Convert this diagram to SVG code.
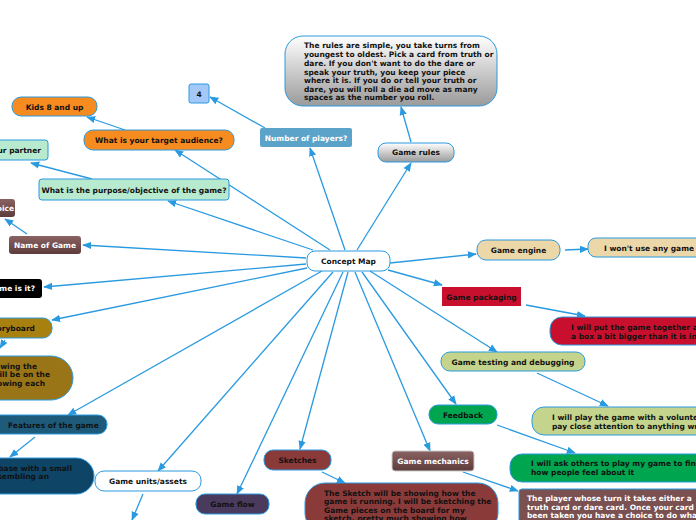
<svg xmlns="http://www.w3.org/2000/svg" width="696" height="520" viewBox="0 0 696 520">
<defs>
<marker id="a" viewBox="0 0 10 10" refX="9" refY="5" markerWidth="7" markerHeight="7" orient="auto"><path d="M0,1 L10,5 L0,9 z" fill="#2a9ae0"/></marker>
<linearGradient id="gray" x1="0" y1="0" x2="0" y2="1"><stop offset="0" stop-color="#ffffff"/><stop offset="1" stop-color="#9a9a9a"/></linearGradient>
<linearGradient id="brown" x1="0" y1="0" x2="0" y2="1"><stop offset="0" stop-color="#8a6262"/><stop offset="1" stop-color="#5e3c3c"/></linearGradient>
<style>
text{font-family:"DejaVu Sans",Verdana,sans-serif;font-size:7.5px;font-weight:bold;fill:#111}
.w{fill:#fff}
.c{text-anchor:middle}
.n{stroke:#2a9ae0;stroke-width:1}
#edges line{stroke:#2a9ae0;stroke-width:1.3;marker-end:url(#a)}
</style>
</defs>
<rect width="696" height="520" fill="#fff"/>
<g id="edges">
<line x1="357" y1="250" x2="411" y2="163"/>
<line x1="345" y1="250" x2="310" y2="148"/>
<line x1="313" y1="250" x2="168" y2="201"/>
<line x1="330" y1="250" x2="175" y2="150"/>
<line x1="306" y1="258" x2="83" y2="245"/>
<line x1="306" y1="264" x2="44" y2="287"/>
<line x1="307" y1="268" x2="52" y2="320"/>
<line x1="322" y1="271" x2="68" y2="415"/>
<line x1="333" y1="272" x2="158" y2="471"/>
<line x1="343" y1="272" x2="237" y2="494"/>
<line x1="348" y1="272" x2="300" y2="449"/>
<line x1="355" y1="272" x2="430" y2="451"/>
<line x1="362" y1="272" x2="456" y2="404"/>
<line x1="370" y1="271" x2="497" y2="352"/>
<line x1="388" y1="270" x2="442" y2="285"/>
<line x1="390" y1="263" x2="476" y2="254"/>
<line x1="411" y1="142" x2="401" y2="107"/>
<line x1="265" y1="128" x2="210" y2="97"/>
<line x1="125" y1="130" x2="87" y2="117"/>
<line x1="92" y1="179" x2="31" y2="163"/>
<line x1="27" y1="234" x2="5" y2="219"/>
<line x1="5" y1="340" x2="0" y2="348"/>
<line x1="35" y1="437" x2="10" y2="457"/>
<line x1="143" y1="494" x2="132" y2="520"/>
<line x1="322" y1="472" x2="345" y2="483"/>
<line x1="463" y1="472" x2="518" y2="491"/>
<line x1="497" y1="425" x2="575" y2="453"/>
<line x1="537" y1="373" x2="608" y2="406"/>
<line x1="526" y1="305" x2="585" y2="316"/>
<line x1="565" y1="250" x2="588" y2="249"/>
</g>
<g id="center"><rect class="n" x="307" y="251" width="83" height="20" rx="8" fill="#fff"/><text class="c" x="348.5" y="264">Concept Map</text></g>
<g id="rules"><rect class="n" x="285" y="36" width="212" height="70" rx="18" fill="url(#gray)"/>
<text x="304" y="48">The rules are simple, you take turns from</text>
<text x="304" y="57">youngest to oldest. Pick a card from truth or</text>
<text x="304" y="66">dare. If you don't want to do the dare or</text>
<text x="304" y="75">speak your truth, you keep your piece</text>
<text x="304" y="83">where it is. If you do or tell your truth or</text>
<text x="304" y="92">dare, you will roll a die ad move as many</text>
<text x="304" y="100">spaces as the number you roll.</text></g>
<g id="gamerules"><rect class="n" x="378" y="143" width="76" height="19" rx="8" fill="url(#gray)"/><text class="c" x="416" y="155">Game rules</text></g>
<g id="players"><rect x="260" y="128" width="92" height="19" rx="2" fill="#5ba3c8"/><text class="c w" x="306" y="140.5">Number of players?</text></g>
<g id="four"><rect class="n" x="189" y="84" width="20" height="19" rx="2" fill="#a4c8f8"/><text class="c" x="199" y="96.5">4</text></g>
<g id="kids"><rect class="n" x="12" y="97" width="85" height="19" rx="9" fill="#f68b1f"/><text class="c" x="54.5" y="109.5">Kids 8 and up</text></g>
<g id="target"><rect class="n" x="84" y="130" width="150" height="20" rx="9" fill="#f68b1f"/><text class="c" x="159" y="143">What is your target audience?</text></g>
<g id="partner"><rect class="n" x="-10" y="140" width="58" height="20" rx="3" fill="#b8ead0"/><text x="41" y="153" style="text-anchor:end">Find your partner</text></g>
<g id="purpose"><rect class="n" x="39" y="179" width="190" height="21" rx="3" fill="#b8ead0"/><text class="c" x="134" y="193">What is the purpose/objective of the game?</text></g>
<g id="ce"><rect x="-10" y="199" width="25" height="18" rx="3" fill="url(#brown)"/><text class="w" x="14" y="211" style="text-anchor:end">Choice</text></g>
<g id="name"><rect x="9" y="236" width="72" height="18" rx="3" fill="url(#brown)"/><text class="c w" x="45" y="248">Name of Game</text></g>
<g id="type"><rect x="-10" y="279" width="52" height="19" rx="3" fill="#000"/><text class="w" x="35" y="291" style="text-anchor:end">What game is it?</text></g>
<g id="storyboard"><rect class="n" x="-10" y="318" width="62" height="20" rx="9" fill="#a88010"/><text x="35" y="331" style="text-anchor:end">Storyboard</text></g>
<g id="storytext"><rect class="n" x="-30" y="356" width="103" height="44" rx="22" fill="#9a7518"/>
<text x="37" y="369" style="text-anchor:end">owing the</text>
<text x="50" y="377" style="text-anchor:end">will be on the</text>
<text x="45" y="386" style="text-anchor:end">owing each</text></g>
<g id="features"><rect class="n" x="-10" y="415" width="117" height="19" rx="9" fill="#1e5a7a"/><text x="8" y="428">Features of the game</text></g>
<g id="featuretext"><rect class="n" x="-30" y="458" width="124" height="36" rx="18" fill="#0e4466"/>
<text x="72" y="471" style="text-anchor:end">n base with a small</text>
<text x="49" y="479" style="text-anchor:end">esembling an</text></g>
<g id="units"><rect class="n" x="95" y="471" width="106" height="20" rx="9" fill="#fff"/><text class="c" x="148" y="484">Game units/assets</text></g>
<g id="flow"><rect class="n" x="196" y="494" width="73" height="20" rx="9" fill="#4a3a5e"/><text class="c" x="232.5" y="507">Game flow</text></g>
<g id="sketches"><rect class="n" x="264" y="450" width="67" height="20" rx="9" fill="#8b3a3a"/><text class="c" x="297.5" y="463">Sketches</text></g>
<g id="sketchtext"><rect class="n" x="305" y="483" width="193" height="50" rx="20" fill="#8b3a3a"/>
<text x="324" y="496">The Sketch will be showing how the</text>
<text x="324" y="504">game is running. I will be sketching the</text>
<text x="324" y="513">Game pieces on the board for my</text>
<text x="324" y="521">sketch, pretty much showing how</text></g>
<g id="mechanics"><rect x="392" y="451" width="82" height="20" rx="3" fill="url(#brown)" stroke="#ccc"/><text class="c w" x="433" y="464">Game mechanics</text></g>
<g id="mechtext"><rect class="n" x="519" y="489" width="190" height="40" rx="3" fill="#7a5050"/>
<text class="w" x="527" y="501">The player whose turn it takes either a</text>
<text class="w" x="527" y="510">truth card or dare card. Once your card has</text>
<text class="w" x="527" y="518">been taken you have a choice to do what is</text></g>
<g id="ask"><rect class="n" x="510" y="454" width="200" height="28" rx="12" fill="#00a550"/>
<text x="531" y="466">I will ask others to play my game to find out</text>
<text x="531" y="475">how people feel about it</text></g>
<g id="feedback"><rect class="n" x="429" y="405" width="68" height="19" rx="9" fill="#00a550"/><text class="c" x="463" y="417.5">Feedback</text></g>
<g id="volunteer"><rect class="n" x="532" y="407" width="180" height="28" rx="12" fill="#c4d48c"/>
<text x="552" y="420">I will play the game with a volunteer and</text>
<text x="552" y="429">pay close attention to anything wrong</text></g>
<g id="testing"><rect class="n" x="441" y="352" width="144" height="19" rx="9" fill="#c4d48c"/><text class="c" x="513" y="364.5">Game testing and debugging</text></g>
<g id="together"><rect class="n" x="550" y="317" width="160" height="28" rx="12" fill="#c8102e"/>
<text x="571" y="330">I will put the game together and put it in</text>
<text x="571" y="339">a box a bit bigger than it is in size</text></g>
<g id="packaging"><rect x="442" y="287" width="79" height="19" fill="#c8102e"/><text class="c" x="481.5" y="299.5">Game packaging</text></g>
<g id="engine"><rect class="n" x="477" y="240" width="83" height="20" rx="9" fill="#ecd7a8"/><text class="c" x="518.5" y="253">Game engine</text></g>
<g id="wont"><rect class="n" x="588" y="238" width="120" height="19" rx="8" fill="#ecd7a8"/><text x="604" y="250.5">I won't use any game engine</text></g>
</svg>
